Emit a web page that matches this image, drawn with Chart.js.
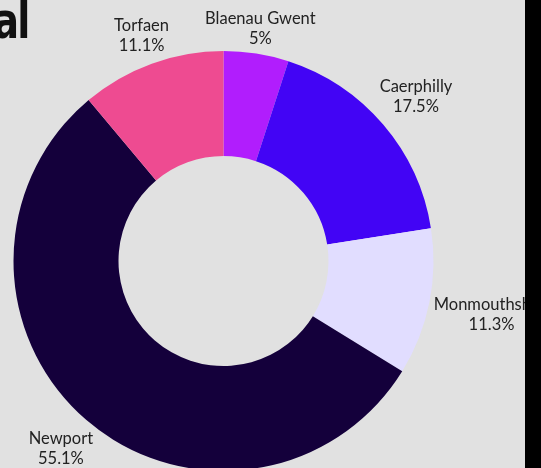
<!DOCTYPE html>
<html>
<head>
<meta charset="utf-8">
<script src="https://cdn.jsdelivr.net/npm/chart.js@4"></script>
<style>
  html, body { margin: 0; padding: 0; overflow: hidden; background: #e1e1e1; }
  #wrap { position: relative; width: 541px; height: 480px; }
  #heading { position: absolute; right: 512px; top: -8px; font: bold 50px 'DejaVu Sans Condensed', sans-serif; color: #111; white-space: nowrap; letter-spacing: -2px; transform: scaleX(0.85); transform-origin: right top; }
  #bar { position: absolute; left: 525px; top: 0; width: 16px; height: 480px; background: #000; }
</style>
</head>
<body>
<div id="wrap">
  <canvas id="donut" width="541" height="480"></canvas>
  <div id="heading">al</div>
  <div id="bar"></div>
</div>
<script>
const areas = ['Blaenau Gwent', 'Caerphilly', 'Monmouthshire', 'Newport', 'Torfaen'];
const shares = [5, 17.5, 11.3, 55.1, 11.1];
const sliceColors = ['#b11dfd', '#4204f5', '#e1ddff', '#14003b', '#ee4b91'];

// draw "name / pct%" outside each slice, pushed out along the mid angle
// until the label box sits just clear of the ring
const outsideLabels = {
    id: 'outsideLabels',
    afterDatasetsDraw(chart) {
        const ctx = chart.ctx;
        const meta = chart.getDatasetMeta(0);
        ctx.save();
        ctx.font = '16.5px Lato, sans-serif';
        ctx.fillStyle = '#222';
        ctx.textAlign = 'center';
        ctx.textBaseline = 'middle';
        meta.data.forEach((arc, i) => {
            const mid = (arc.startAngle + arc.endAngle) / 2;
            const dx = Math.cos(mid), dy = Math.sin(mid);
            const line1 = areas[i];
            const line2 = shares[i] + '%';
            const w = Math.max(ctx.measureText(line1).width, ctx.measureText(line2).width);
            const h = 39;
            const gap = arc.outerRadius + 3;
            let lo = 0, hi = 600;
            for (let k = 0; k < 40; k++) {
                const t = (lo + hi) / 2;
                const ex = Math.max(Math.abs(dx * t) - w / 2, 0);
                const ey = Math.max(Math.abs(dy * t) - h / 2, 0);
                if (Math.hypot(ex, ey) < gap) lo = t; else hi = t;
            }
            const cx = arc.x + dx * lo;
            const cy = arc.y + dy * lo;
            ctx.fillText(line1, cx, cy - 10);
            ctx.fillText(line2, cx, cy + 10);
        });
        ctx.restore();
    }
};

new Chart(document.getElementById('donut'), {
    type: 'doughnut',
    data: {
        labels: areas,
        datasets: [{
            data: shares,
            backgroundColor: sliceColors,
            borderWidth: 0,
        }],
    },
    options: {
        responsive: false,
        animation: false,
        cutout: '50%',
        layout: { padding: { left: 13, right: 107, top: 51, bottom: 9 } },
        plugins: {
            legend: { display: false },
            tooltip: { enabled: false },
        },
    },
    plugins: [outsideLabels],
});
</script>
</body>
</html>
